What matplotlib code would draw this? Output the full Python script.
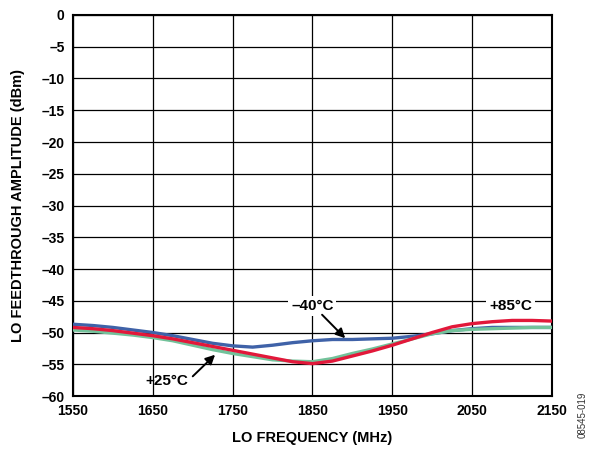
import matplotlib
matplotlib.use("Agg")
import matplotlib.pyplot as plt

plt.rcParams['font.family'] = ['Liberation Sans', 'DejaVu Sans']
plt.rcParams['font.weight'] = 'bold'

# LO frequency (MHz) and feedthrough amplitude (dBm) per temperature
freq = [1550, 1575, 1600, 1625, 1650, 1675, 1700, 1725, 1750, 1775, 1800, 1825, 1850,
        1875, 1900, 1925, 1950, 1975, 2000, 2025, 2050, 2075, 2100, 2125, 2150]
amp_m40 = [-48.7, -48.9, -49.2, -49.6, -50.0, -50.5, -51.1, -51.7, -52.1, -52.3, -52.0, -51.6, -51.3,
           -51.1, -51.1, -51.0, -50.9, -50.6, -50.2, -49.7, -49.4, -49.2, -49.2, -49.2, -49.2]
amp_p25 = [-49.6, -49.8, -50.1, -50.4, -50.8, -51.3, -52.0, -52.7, -53.3, -53.8, -54.3, -54.5, -54.6,
           -54.1, -53.3, -52.6, -51.8, -51.0, -50.2, -49.7, -49.5, -49.4, -49.3, -49.2, -49.2]
amp_p85 = [-49.2, -49.4, -49.7, -50.1, -50.5, -51.0, -51.6, -52.2, -52.8, -53.4, -54.0, -54.6, -54.9,
           -54.5, -53.7, -52.9, -52.0, -51.0, -50.0, -49.1, -48.6, -48.3, -48.1, -48.1, -48.2]

x_ticks = [1550, 1650, 1750, 1850, 1950, 2050, 2150]
y_ticks = [0, -5, -10, -15, -20, -25, -30, -35, -40, -45, -50, -55, -60]

fig = plt.figure(figsize=(5.92, 4.53), dpi=100)
ax = fig.add_axes([0.1233, 0.1258, 0.8091, 0.8411])

ax.plot(freq, amp_m40, color='#3f62a8', linewidth=2.4, zorder=3)
ax.plot(freq, amp_p25, color='#72c29a', linewidth=2.4, zorder=4)
ax.plot(freq, amp_p85, color='#e2183a', linewidth=2.4, zorder=5)

ax.set_xlim(1550, 2150)
ax.set_ylim(-60, 0)
ax.set_xticks(x_ticks)
ax.set_yticks(y_ticks)
ax.set_yticklabels(['0' if v == 0 else '\u2013%d' % abs(v) for v in y_ticks])
ax.tick_params(length=0, labelsize=10, pad=6)
ax.grid(True, color='black', linewidth=0.9)
for s in ax.spines.values():
    s.set_linewidth(1.5)

ax.set_xlabel('LO FREQUENCY (MHz)', fontsize=10.5, fontweight='bold', labelpad=9)
ax.set_ylabel('LO FEEDTHROUGH AMPLITUDE (dBm)', fontsize=10.5, fontweight='bold', labelpad=12)

bbox = dict(facecolor='white', edgecolor='none', pad=2)
arrow = dict(arrowstyle='-|>', color='black', lw=1.4, shrinkA=0, shrinkB=0, mutation_scale=14)

ax.text(1850, -45.8, '\u201340\u00b0C', fontsize=11, fontweight='bold', ha='center', va='center',
        bbox=bbox, zorder=6)
ax.annotate('', xy=(1891, -50.9), xytext=(1862, -47.2), arrowprops=arrow, zorder=6)

ax.text(1668, -57.6, '+25\u00b0C', fontsize=11, fontweight='bold', ha='center', va='center', zorder=6)
ax.annotate('', xy=(1728, -53.5), xytext=(1700, -56.9), arrowprops=arrow, zorder=6)

ax.text(2098, -45.8, '+85\u00b0C', fontsize=11, fontweight='bold', ha='center', va='center',
        bbox=bbox, zorder=6)

fig.text(0.985, 0.084, '08545-019', rotation=90, fontsize=7, fontweight='normal',
         color='#333333', ha='center', va='center')

fig.savefig('out.png', dpi=100)
